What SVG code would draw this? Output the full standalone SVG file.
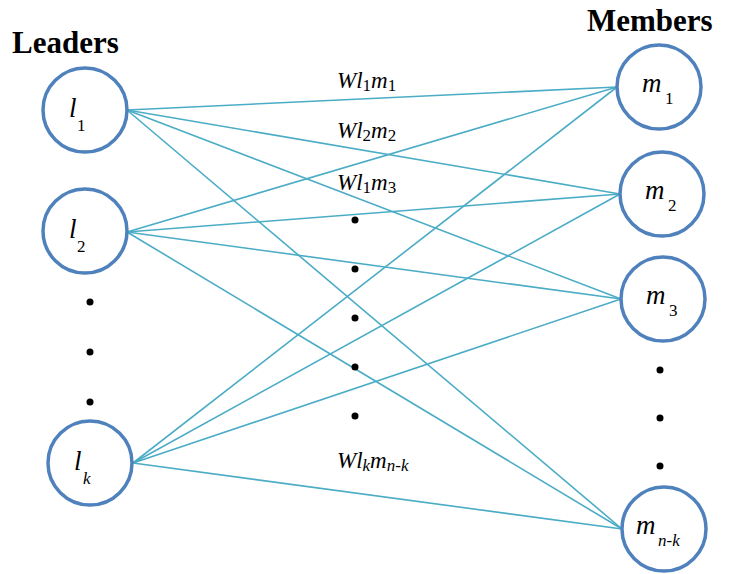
<svg xmlns="http://www.w3.org/2000/svg" width="740" height="574" viewBox="0 0 740 574">
<rect width="740" height="574" fill="#fff"/>
<text font-family="Liberation Serif" font-weight="bold" font-size="31" x="12" y="53">Leaders</text>
<text font-family="Liberation Serif" font-weight="bold" font-size="31" x="587" y="31">Members</text>
<g id="connectors" stroke="#4BACC6" stroke-width="1.6" fill="none">
<line x1="127" y1="110" x2="617" y2="87"/>
<line x1="127" y1="110" x2="620" y2="194"/>
<line x1="127" y1="110" x2="621" y2="299"/>
<line x1="127" y1="110" x2="622" y2="529"/>
<line x1="127" y1="232" x2="617" y2="87"/>
<line x1="127" y1="232" x2="620" y2="194"/>
<line x1="127" y1="232" x2="621" y2="299"/>
<line x1="127" y1="232" x2="622" y2="529"/>
<line x1="133" y1="463" x2="617" y2="87"/>
<line x1="133" y1="463" x2="620" y2="194"/>
<line x1="133" y1="463" x2="621" y2="299"/>
<line x1="133" y1="463" x2="622" y2="529"/>
</g>
<g id="edge-labels" fill="#000">
<text font-family="Liberation Serif" font-style="italic" font-size="23" x="337" y="88">Wl<tspan font-style="normal" font-size="17" dy="3">1</tspan><tspan dy="-3">m</tspan><tspan font-style="normal" font-size="17" dy="3">1</tspan></text>
<text font-family="Liberation Serif" font-style="italic" font-size="23" x="337" y="138">Wl<tspan font-style="normal" font-size="17" dy="3">2</tspan><tspan dy="-3">m</tspan><tspan font-style="normal" font-size="17" dy="3">2</tspan></text>
<text font-family="Liberation Serif" font-style="italic" font-size="23" x="337" y="190">Wl<tspan font-style="normal" font-size="17" dy="3">1</tspan><tspan dy="-3">m</tspan><tspan font-style="normal" font-size="17" dy="3">3</tspan></text>
<text font-family="Liberation Serif" font-style="italic" font-size="23" x="337" y="468">Wl<tspan font-size="17" dy="3">k</tspan><tspan dy="-3">m</tspan><tspan font-size="17" dy="3">n-k</tspan></text>
<circle cx="355" cy="220" r="3.5"/>
<circle cx="355" cy="269" r="3.5"/>
<circle cx="355" cy="318" r="3.5"/>
<circle cx="355" cy="367" r="3.5"/>
<circle cx="355" cy="416" r="3.5"/>
</g>
<g id="l1"><circle fill="#fff" stroke="#4F81BD" stroke-width="3.5" cx="85" cy="110" r="42"/><text font-family="Liberation Serif" font-style="italic" font-size="27" x="69" y="117">l</text><text font-family="Liberation Serif" font-size="17" x="77" y="131">1</text></g>
<g id="l2"><circle fill="#fff" stroke="#4F81BD" stroke-width="3.5" cx="85" cy="231" r="42"/><text font-family="Liberation Serif" font-style="italic" font-size="27" x="69" y="238">l</text><text font-family="Liberation Serif" font-size="17" x="77" y="252">2</text></g>
<g id="l-dots" fill="#000"><circle cx="90" cy="302" r="3.5"/><circle cx="90" cy="352" r="3.5"/><circle cx="90" cy="402" r="3.5"/></g>
<g id="lk"><circle fill="#fff" stroke="#4F81BD" stroke-width="3.5" cx="90" cy="463" r="42"/><text font-family="Liberation Serif" font-style="italic" font-size="27" x="74" y="470">l</text><text font-family="Liberation Serif" font-style="italic" font-size="17" x="83" y="484">k</text></g>
<g id="m1"><circle fill="#fff" stroke="#4F81BD" stroke-width="3.5" cx="659" cy="87" r="42"/><text font-family="Liberation Serif" font-style="italic" font-size="27" x="642" y="92">m</text><text font-family="Liberation Serif" font-size="17" x="665" y="104">1</text></g>
<g id="m2"><circle fill="#fff" stroke="#4F81BD" stroke-width="3.5" cx="662" cy="194" r="42"/><text font-family="Liberation Serif" font-style="italic" font-size="27" x="645" y="199">m</text><text font-family="Liberation Serif" font-size="17" x="668" y="211">2</text></g>
<g id="m3"><circle fill="#fff" stroke="#4F81BD" stroke-width="3.5" cx="663" cy="299" r="42"/><text font-family="Liberation Serif" font-style="italic" font-size="27" x="646" y="304">m</text><text font-family="Liberation Serif" font-size="17" x="669" y="316">3</text></g>
<g id="m-dots" fill="#000"><circle cx="660" cy="370" r="3.5"/><circle cx="660" cy="418" r="3.5"/><circle cx="660" cy="466" r="3.5"/></g>
<g id="mnk"><circle fill="#fff" stroke="#4F81BD" stroke-width="3.5" cx="664" cy="529" r="42"/><text font-family="Liberation Serif" font-style="italic" font-size="27" x="636" y="534">m</text><text font-family="Liberation Serif" font-style="italic" font-size="17" x="658" y="546">n-k</text></g>
</svg>
